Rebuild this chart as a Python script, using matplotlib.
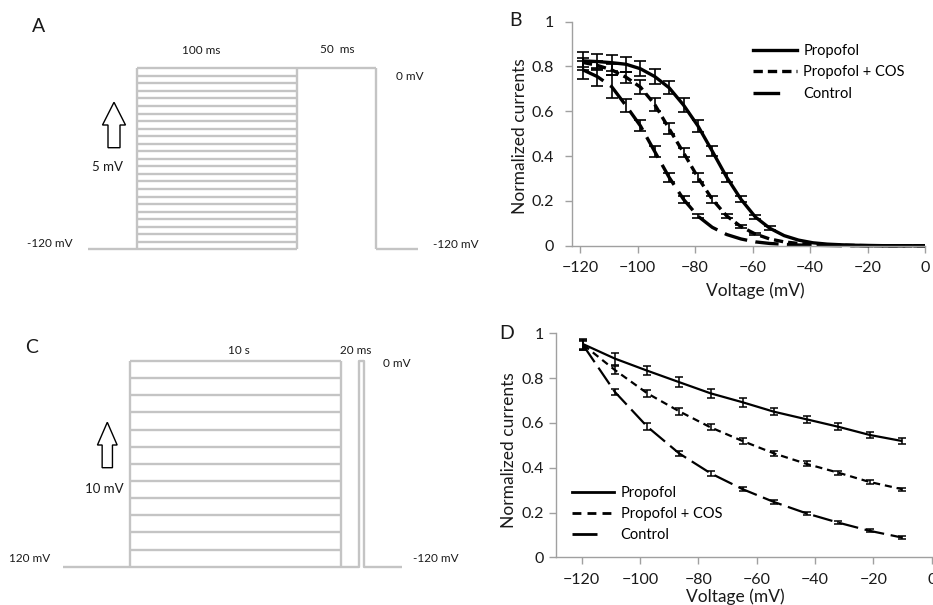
import numpy as np
import matplotlib
matplotlib.use('Agg')
import matplotlib.pyplot as plt
from matplotlib.lines import Line2D
from matplotlib.patches import FancyArrow
from matplotlib.ticker import FuncFormatter

plt.rcParams['font.family'] = ['Lato', 'DejaVu Sans']

# ---------------- DATA ----------------
# Panel A: steady-state inactivation protocol
levels_A = [-120, -115, -110, -105, -100, -95, -90, -85, -80, -75, -70, -65, -60,
            -55, -50, -45, -40, -35, -30, -25, -20, -15, -10, -5, 0]
holding_A = -120
test_A = 0
pre_A, step_A, testdur_A, post_A = 31, 100, 50, 26   # ms (schematic)

# Panel C: protocol (schematic segment widths, not to scale)
levels_C = [-120, -110, -100, -90, -80, -70, -60, -50, -40, -30, -20, -10, 0]
holding_C = -120
test_C = 0
pre_C, step_C, gap_C, pulse_C, post_C = 67, 211, 18, 5, 38

# Panel B: normalized currents vs voltage
volt_B = [-119, -114, -109, -104, -99, -94, -89, -84, -79, -74, -69, -64, -59, -54,
          -49, -44, -39, -34, -29, -24, -19, -14, -9, -4, 0]
prop_B = [0.825, 0.822, 0.817, 0.810, 0.790, 0.755, 0.705, 0.628, 0.535, 0.422, 0.306,
          0.207, 0.128, 0.078, 0.045, 0.025, 0.013, 0.007, 0.004, 0.002, 0.001, 0.0,
          0.0, 0.0, 0.0]
cos_B = [0.818, 0.805, 0.785, 0.752, 0.708, 0.630, 0.522, 0.415, 0.305, 0.207, 0.133,
         0.085, 0.052, 0.030, 0.017, 0.010, 0.005, 0.003, 0.002, 0.001, 0.0, 0.0,
         0.0, 0.0, 0.0]
ctrl_B = [0.785, 0.755, 0.710, 0.625, 0.535, 0.420, 0.305, 0.207, 0.132, 0.082, 0.050,
          0.030, 0.017, 0.010, 0.006, 0.003, 0.002, 0.001, 0.0, 0.0, 0.0, 0.0,
          0.0, 0.0, 0.0]
prop_err_B = [0.04, 0.035, 0.035, 0.033, 0.033, 0.035, 0.03, 0.032, 0.026, 0.022,
              0.02, 0.014, 0.01, 0.008]
cos_err_B = [0.02, 0.02, 0.025, 0.025, 0.03, 0.03, 0.025, 0.02, 0.02, 0.015, 0.01,
             0.008, 0.006]
ctrl_err_B = [0.04, 0.04, 0.05, 0.03, 0.025, 0.025, 0.02, 0.015, 0.01]

# Panel D
volt_D = [-119.4, -108.6, -97.5, -86.6, -75.8, -64.8, -54.1, -42.9, -32.1, -21.2, -10.1]
prop_D = [0.951, 0.887, 0.833, 0.782, 0.732, 0.692, 0.650, 0.616, 0.583, 0.546, 0.519]
cos_D = [0.948, 0.836, 0.732, 0.652, 0.580, 0.519, 0.464, 0.417, 0.378, 0.336, 0.304]
ctrl_D = [0.945, 0.738, 0.583, 0.464, 0.375, 0.304, 0.247, 0.196, 0.155, 0.118, 0.088]
prop_err_D = [0.025, 0.027, 0.02, 0.022, 0.02, 0.02, 0.015, 0.015, 0.015, 0.015, 0.012]
cos_err_D = [0.02, 0.016, 0.016, 0.015, 0.013, 0.012, 0.011, 0.011, 0.009, 0.009, 0.007]
ctrl_err_D = [0.02, 0.014, 0.016, 0.012, 0.01, 0.008, 0.008, 0.008, 0.007, 0.007, 0.008]

labels = ['Propofol', 'Propofol + COS', 'Control']
xticks = [-120, -100, -80, -60, -40, -20, 0]
yticks = [0, 0.2, 0.4, 0.6, 0.8, 1]

# ---------------- FIGURE ----------------
W, H = 933, 605
fig = plt.figure(figsize=(W / 100, H / 100), dpi=100)


def box(x0, y0, x1, y1):
    return [x0 / W, 1 - y1 / H, (x1 - x0) / W, (y1 - y0) / H]


def ftext(x, y, s, size=8.5, **kw):
    kw.setdefault('ha', 'center')
    kw.setdefault('va', 'center')
    fig.text(x / W, 1 - y / H, s, fontsize=size, color='#1a1a1a', **kw)


def farrow(x, ybot, ytop, head_len, head_w, shaft_w):
    a = FancyArrow(x / W, 1 - ybot / H, 0, (ybot - ytop) / H,
                   width=shaft_w / W, head_width=head_w / W, head_length=head_len / H,
                   length_includes_head=True, transform=fig.transFigure,
                   facecolor='white', edgecolor='black', lw=1.0)
    fig.add_artist(a)


GRAY = '#c4c4c4'
PLW = 1.7

# ---- Panel A ----
axA = fig.add_axes(box(88, 68.3, 417.7, 249.3))
t0 = pre_A
t1 = t0 + step_A
t2 = t1 + testdur_A
t3 = t2 + post_A
axA.set_xlim(0, t3)
axA.set_ylim(-120, 0)
axA.axis('off')
kwA = dict(color=GRAY, lw=PLW, clip_on=False, solid_capstyle='butt')
axA.plot([0, t0], [holding_A, holding_A], **kwA)
for L in levels_A:
    axA.plot([t0, t1], [L, L], **kwA)
axA.plot([t0, t0], [min(levels_A), max(levels_A)], **kwA)
axA.plot([t1, t1], [min(levels_A), max(levels_A)], **kwA)
axA.plot([t1, t2], [test_A, test_A], **kwA)
axA.plot([t2, t2], [test_A, holding_A], **kwA)
axA.plot([t2, t3], [holding_A, holding_A], **kwA)

ftext(39, 27, 'A', size=14)
ftext(201, 50.7, '100 ms')
ftext(337.7, 49.3, '50  ms')
ftext(410, 77, '0 mV')
ftext(107.7, 166.7, '5 mV', size=9.5)
ftext(50, 243.3, '-120 mV')
ftext(456, 244.5, '-120 mV')
farrow(114, 147.7, 102.3, 22.7, 23, 12)

# ---- Panel C ----
axC = fig.add_axes(box(63.3, 361, 401.7, 566.7))
c0 = pre_C
c1 = c0 + step_C
c2 = c1 + gap_C
c3 = c2 + pulse_C
c4 = c3 + post_C
axC.set_xlim(0, c4)
axC.set_ylim(-120, 0)
axC.axis('off')
axC.plot([0, c0], [holding_C, holding_C], **kwA)
for L in levels_C:
    axC.plot([c0, c1], [L, L], **kwA)
axC.plot([c0, c0], [min(levels_C), max(levels_C)], **kwA)
axC.plot([c1, c1], [min(levels_C), max(levels_C)], **kwA)
axC.plot([c1, c2, c2, c3, c3, c4],
         [holding_C, holding_C, test_C, test_C, holding_C, holding_C], **kwA)

ftext(31.7, 347.7, 'C', size=14)
ftext(239.3, 350, '10 s')
ftext(355.7, 350, '20 ms')
ftext(396.7, 363.3, '0 mV')
ftext(104.3, 489.3, '10 mV', size=9.5)
ftext(30, 558.3, '120 mV')
ftext(436, 558.3, '-120 mV')
farrow(107.3, 467.7, 422.3, 22.7, 19.7, 10.3)


# ---- Panels B and D ----
def style_axes(ax):
    for s in ('top', 'right'):
        ax.spines[s].set_visible(False)
    for s in ('left', 'bottom'):
        ax.spines[s].set_color('#a0a0a0')
        ax.spines[s].set_linewidth(1.0)
    ax.tick_params(direction='out', length=5, width=1.0, color='#a0a0a0',
                   labelsize=11.5, labelcolor='#1a1a1a')
    ax.set_xticks(xticks)
    ax.set_yticks(yticks)
    ax.yaxis.set_major_formatter(FuncFormatter(lambda v, _: f'{v:g}'))
    ax.set_ylim(0, 1)


def draw_series(ax, v, ys, errs, lw, dashes, capsize, elw):
    for y, e, d in zip(ys, errs, dashes):
        n = len(e)
        ax.errorbar(v[:n], y[:n], yerr=e, fmt='none', ecolor='black',
                    elinewidth=elw, capsize=capsize, capthick=elw, clip_on=False,
                    zorder=3)
        ls = '-' if d is None else (0, d)
        ax.plot(v, y, color='black', lw=lw, ls=ls, clip_on=False, zorder=2,
                solid_capstyle='butt', dash_capstyle='butt')


axB = fig.add_axes(box(571.7, 21.7, 925, 245.7))
style_axes(axB)
axB.set_xlim(-122.9, 0)
axB.tick_params(axis='y', pad=8)
axB.tick_params(axis='x', pad=6)
draw_series(axB, volt_B, [prop_B, cos_B, ctrl_B], [prop_err_B, cos_err_B, ctrl_err_B],
            lw=2.4, dashes=[None, (2.8, 1.5), (7, 2.5)], capsize=4.0, elw=1.2)
axB.set_xlabel('Voltage (mV)', fontsize=12.5, color='#1a1a1a')
axB.set_ylabel('Normalized currents', fontsize=12.5, color='#1a1a1a')
axB.xaxis.set_label_coords(0.519, -0.165)
axB.yaxis.set_label_coords(-0.124, 0.49)
hB = [Line2D([], [], color='black', lw=2.4),
      Line2D([], [], color='black', lw=2.4, ls=(0, (2.8, 1.5)), dash_capstyle='butt'),
      Line2D([], [], color='black', lw=2.4, ls=(0, (8, 20)), dash_capstyle='butt')]
axB.legend(hB, labels, loc='upper left', bbox_to_anchor=(0.513, 0.90), frameon=False,
           fontsize=10.5, handlelength=3.0, handletextpad=0.45, labelspacing=0.5,
           borderpad=0, borderaxespad=0)
ftext(515.7, 21, 'B', size=14)

axD = fig.add_axes(box(556, 333.3, 931.7, 557.3))
style_axes(axD)
axD.set_xlim(-128.8, 0)
axD.tick_params(axis='y', pad=4)
axD.tick_params(axis='x', pad=6)
draw_series(axD, volt_D, [prop_D, cos_D, ctrl_D], [prop_err_D, cos_err_D, ctrl_err_D],
            lw=1.6, dashes=[None, (3.2, 2.2), (9, 3)], capsize=3.0, elw=1.1)
axD.set_xlabel('Voltage (mV)', fontsize=12.5, color='#1a1a1a')
axD.set_ylabel('Normalized currents', fontsize=12.5, color='#1a1a1a')
axD.xaxis.set_label_coords(0.476, -0.137)
axD.yaxis.set_label_coords(-0.104, 0.479)
hD = [Line2D([], [], color='black', lw=2.0),
      Line2D([], [], color='black', lw=2.0, ls=(0, (3.2, 2.2)), dash_capstyle='butt'),
      Line2D([], [], color='black', lw=2.0, ls=(0, (9, 20)), dash_capstyle='butt')]
axD.legend(hD, labels, loc='upper left', bbox_to_anchor=(0.042, 0.32), frameon=False,
           fontsize=10.5, handlelength=2.9, handletextpad=0.45, labelspacing=0.5,
           borderpad=0, borderaxespad=0)
ftext(506.7, 333.3, 'D', size=14)

fig.savefig('out.png', dpi=100)
